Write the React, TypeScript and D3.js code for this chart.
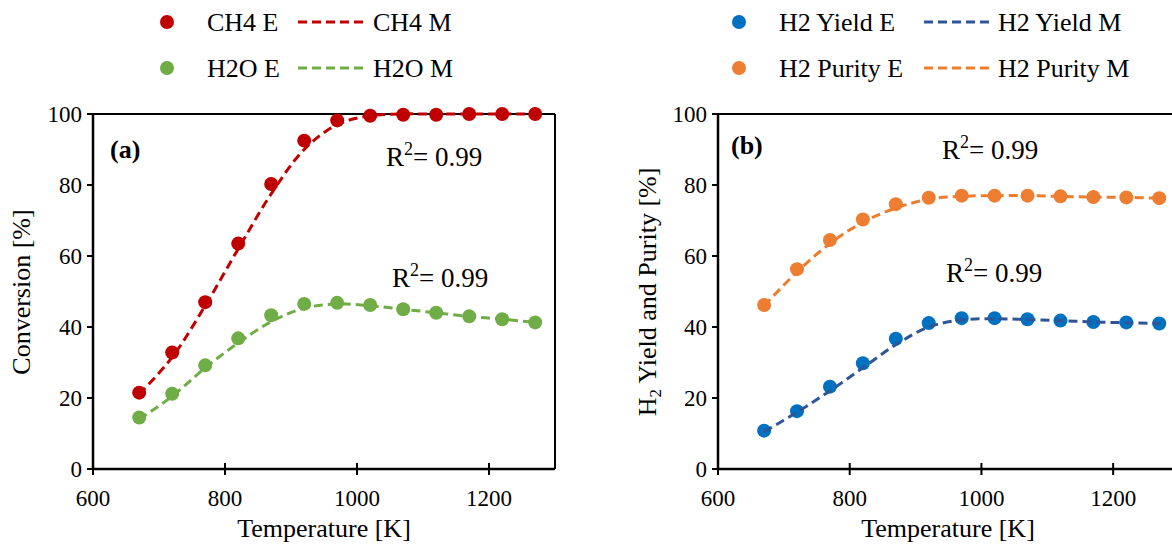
import React from "react";
import * as d3 from "d3";

const temps = [670, 720, 770, 820, 870, 920, 970, 1020, 1070, 1120, 1170, 1220, 1270];

const ch4E = [21.5, 32.8, 47, 63.5, 80.3, 92.5, 98.2, 99.5, 99.8, 99.8, 100, 100, 100];
const ch4M = [21, 31.5, 46, 62, 77.5, 90, 97, 99.5, 100, 100, 100, 100, 100];
const h2oE = [14.5, 21.2, 29.2, 36.8, 43.3, 46.5, 46.8, 46.2, 45, 44, 43, 42.2, 41.3];
const h2oM = [14, 20.5, 28.5, 35.5, 41.5, 45.3, 46.5, 46, 45, 44, 43, 42.2, 41.3];

const purityE = [46.2, 56.3, 64.5, 70.3, 74.6, 76.4, 77, 77, 77, 76.8, 76.6, 76.5, 76.3];
const purityM = [46, 55.5, 63.5, 69.5, 73.5, 76, 76.8, 77, 77, 76.8, 76.6, 76.5, 76.3];
const yieldE = [10.8, 16.3, 23.2, 29.8, 36.7, 41.1, 42.5, 42.5, 42.2, 41.8, 41.4, 41.3, 41];
const yieldM = [10.5, 16, 22, 28.5, 35, 40, 42, 42.3, 42.1, 41.8, 41.4, 41.2, 41];

const xTicks = [600, 800, 1000, 1200];
const yTicks = [0, 20, 40, 60, 80, 100];

const FONT = "Liberation Serif, Times New Roman, serif";

type Series = { name: string; vals: number[]; color: string };

function Panel(props: {
  x0: number;
  x1: number;
  label: string;
  yTitle: React.ReactNode;
  yTitleX: number;
  exp: Series[];
  mod: Series[];
  r2: { x: number; y: number }[];
  tagX: number;
  tagY: number;
  titleX: number;
}) {
  const x = d3.scaleLinear().domain([600, 1300]).range([props.x0, props.x1]);
  const y = d3.scaleLinear().domain([0, 100]).range([469, 114]);
  const line = d3
    .line<number>()
    .x((_, i) => x(temps[i]))
    .y((d) => y(d))
    .curve(d3.curveCatmullRom);
  return (
    <g fontFamily={FONT} fill="#000">
      <line x1={x(600)} x2={x(1300)} y1={y(100)} y2={y(100)} stroke="#000" strokeWidth={2} />
      <line x1={x(1300)} x2={x(1300)} y1={y(0)} y2={y(100)} stroke="#000" strokeWidth={2} />
      <line x1={x(600)} x2={x(600)} y1={y(0)} y2={y(100)} stroke="#000" strokeWidth={2.5} />
      <line x1={x(600)} x2={x(1300)} y1={y(0)} y2={y(0)} stroke="#000" strokeWidth={2.5} />
      {yTicks.map((t) => (
        <g key={"y" + t}>
          <line x1={x(600) - 6} x2={x(600)} y1={y(t)} y2={y(t)} stroke="#000" strokeWidth={2} />
          <text x={x(600) - 11} y={y(t) + 8} fontSize={23} textAnchor="end">
            {t}
          </text>
        </g>
      ))}
      {xTicks.map((t) => (
        <g key={"x" + t}>
          <line x1={x(t)} x2={x(t)} y1={y(0) - 6} y2={y(0) + 6} stroke="#000" strokeWidth={2} />
          <text x={x(t)} y={506} fontSize={23} textAnchor="middle">
            {t}
          </text>
        </g>
      ))}
      <text x={props.titleX} y={537} fontSize={26} textAnchor="middle">
        Temperature [K]
      </text>
      <text
        transform={`translate(${props.yTitleX},292) rotate(-90)`}
        fontSize={26}
        textAnchor="middle"
      >
        {props.yTitle}
      </text>
      <text x={props.tagX} y={props.tagY} fontSize={26} fontWeight="bold">
        {props.label}
      </text>
      {props.r2.map((p, i) => (
        <text key={"r" + i} x={p.x} y={p.y} fontSize={27}>
          R<tspan fontSize={18} dy={-11}>2</tspan>
          <tspan dy={11}>= 0.99</tspan>
        </text>
      ))}
      {props.exp.map((s) => (
        <g key={s.name}>
          {s.vals.map((v, i) => (
            <circle key={i} cx={x(temps[i])} cy={y(v)} r={7} fill={s.color} />
          ))}
        </g>
      ))}
      {props.mod.map((s) => (
        <path
          key={s.name}
          d={line(s.vals) || ""}
          fill="none"
          stroke={s.color}
          strokeWidth={3}
          strokeDasharray="9,5"
        />
      ))}
    </g>
  );
}

function Legend(props: {
  dotX: number;
  textX: number;
  dashX0: number;
  dashX1: number;
  text2X: number;
  rows: { e: string; m: string; ec: string; mc: string }[];
}) {
  return (
    <g fontFamily={FONT}>
      {props.rows.map((r, i) => {
        const cy = 22 + i * 46;
        return (
          <g key={r.e}>
            <circle cx={props.dotX} cy={cy} r={7} fill={r.ec} />
            <text x={props.textX} y={cy + 9} fontSize={26}>
              {r.e}
            </text>
            <line
              x1={props.dashX0}
              x2={props.dashX1}
              y1={cy}
              y2={cy}
              stroke={r.mc}
              strokeWidth={3}
              strokeDasharray="9,5"
            />
            <text x={props.text2X} y={cy + 9} fontSize={26}>
              {r.m}
            </text>
          </g>
        );
      })}
    </g>
  );
}

export default function App() {
  return (
    <svg
      width={1172}
      height={546}
      style={{ position: "absolute", left: 0, top: 0, background: "#fff" }}
    >
      <rect width={1172} height={546} fill="#fff" />
      <Legend
        dotX={167}
        textX={207}
        dashX0={298}
        dashX1={368}
        text2X={373}
        rows={[
          { e: "CH4 E", m: "CH4 M", ec: "#C00000", mc: "#C00000" },
          { e: "H2O E", m: "H2O M", ec: "#70AD47", mc: "#70AD47" },
        ]}
      />
      <Legend
        dotX={739}
        textX={779}
        dashX0={924}
        dashX1={994}
        text2X={998}
        rows={[
          { e: "H2 Yield E", m: "H2 Yield M", ec: "#0070C0", mc: "#2F5597" },
          { e: "H2 Purity E", m: "H2 Purity M", ec: "#ED7D31", mc: "#ED7D31" },
        ]}
      />
      <Panel
        x0={93}
        x1={555}
        label="(a)"
        yTitle="Conversion [%]"
        yTitleX={30}
        exp={[
          { name: "ch4E", vals: ch4E, color: "#C00000" },
          { name: "h2oE", vals: h2oE, color: "#70AD47" },
        ]}
        mod={[
          { name: "ch4M", vals: ch4M, color: "#C00000" },
          { name: "h2oM", vals: h2oM, color: "#70AD47" },
        ]}
        r2={[
          { x: 386, y: 166 },
          { x: 392, y: 287 },
        ]}
        tagX={110}
        tagY={158}
        titleX={324}
      />
      <Panel
        x0={718}
        x1={1179}
        label="(b)"
        yTitle={
          <>
            H<tspan fontSize={17} dy={5}>2</tspan>
            <tspan dy={-5}> Yield and Purity [%]</tspan>
          </>
        }
        yTitleX={656}
        exp={[
          { name: "purE", vals: purityE, color: "#ED7D31" },
          { name: "yldE", vals: yieldE, color: "#0070C0" },
        ]}
        mod={[
          { name: "purM", vals: purityM, color: "#ED7D31" },
          { name: "yldM", vals: yieldM, color: "#2F5597" },
        ]}
        r2={[
          { x: 942, y: 159 },
          { x: 946, y: 282 },
        ]}
        tagX={731}
        tagY={154}
        titleX={948}
      />
    </svg>
  );
}
